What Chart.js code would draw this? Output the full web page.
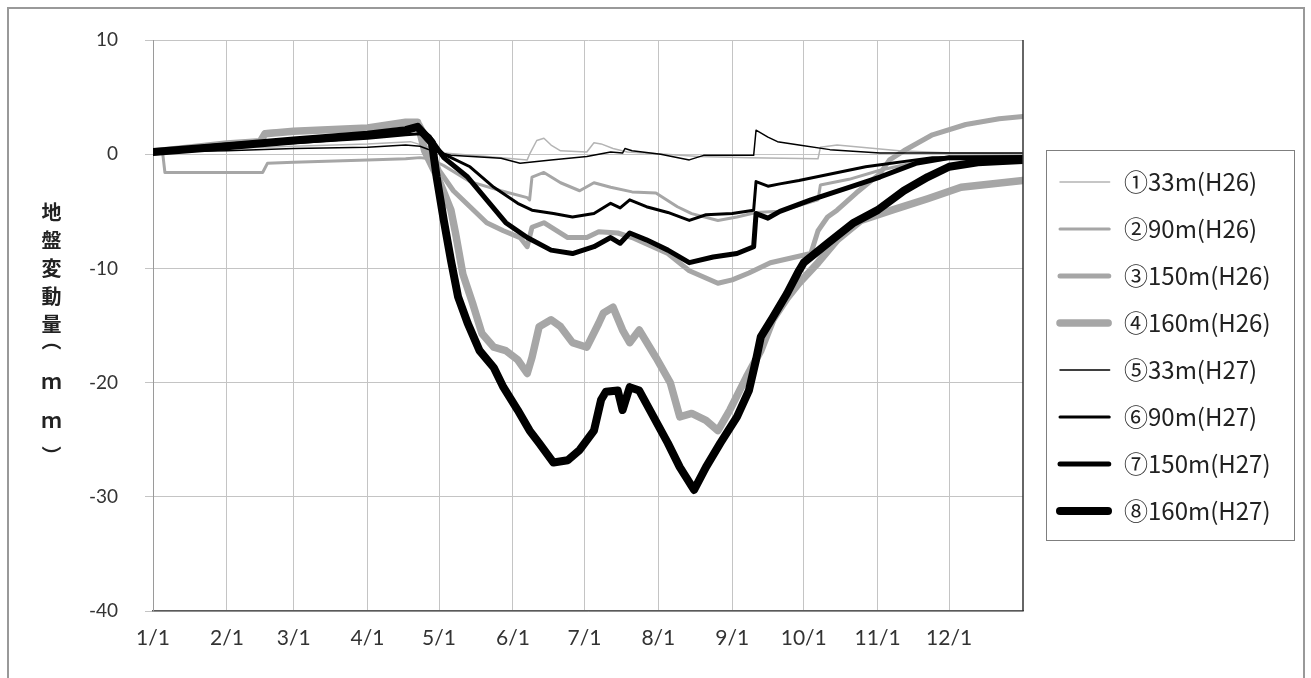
<!DOCTYPE html>
<html lang="ja">
<head>
<meta charset="UTF-8">
<title>地盤変動量</title>
<script src="https://cdn.jsdelivr.net/npm/chart.js"></script>
<style>
  html, body { margin: 0; padding: 0; background: #fff; overflow: hidden; }
  #wrap { position: relative; width: 1311px; height: 678px; }
  #frame { position: absolute; left: 7px; top: 7px; width: 1294px; height: 690px; border: 2px solid #999; pointer-events: none; }
  #ytitle { position: absolute; left: 37px; top: 202px; writing-mode: vertical-rl; font: bold 20px "Noto Sans CJK JP", sans-serif; letter-spacing: 8px; color: #222; }
  #ytitle .a { letter-spacing: -4px; }
  #ytitle .b { letter-spacing: 23px; }
  #ytitle .c { letter-spacing: 19px; }
  #ytitle .d { letter-spacing: 14px; }
</style>
</head>
<body>
<div id="wrap">
  <canvas id="chart" width="1311" height="678"></canvas>
  <div id="frame"></div>
  <div id="ytitle">地盤変動<span class="a">量</span><span class="b">（</span><span class="c">ｍ</span><span class="d">ｍ</span>）</div>
</div>
<script>
// x = day of year (0 = 1/1), y = ground displacement (mm)
const monthStarts = [0, 31, 59, 90, 120, 151, 181, 212, 243, 273, 304, 334];
const monthLabels = ['1/1', '2/1', '3/1', '4/1', '5/1', '6/1', '7/1', '8/1', '9/1', '10/1', '11/1', '12/1'];
const seriesNames = ['①33m(H26)', '②90m(H26)', '③150m(H26)', '④160m(H26)',
                     '⑤33m(H27)', '⑥90m(H27)', '⑦150m(H27)', '⑧160m(H27)'];

const days1 = [0,31,59,90,108,116,122,140,157,158,161,164,167,171,182,185,188,193,199,215,229,250,279,280,287,313,335,365];
const vals1 = [0.2,0.5,0.7,0.9,1.1,0.6,0.1,-0.2,-0.5,0.0,1.2,1.4,0.8,0.3,0.2,1.0,0.9,0.5,0.2,0.0,-0.2,-0.3,-0.4,0.6,0.8,0.3,0.1,0.0];

const days2 = [0,4,5,46,48,59,90,106,112,116,122,133,146,157,158,159,164,171,179,185,192,201,211,220,226,237,245,253,263,271,279,280,292,305,320,334,365];
const vals2 = [0.2,0.2,-1.6,-1.6,-0.8,-0.7,-0.5,-0.4,-0.3,-0.4,-1.0,-2.4,-3.2,-3.8,-4.0,-2.0,-1.6,-2.5,-3.2,-2.5,-2.9,-3.3,-3.4,-4.6,-5.2,-5.8,-5.5,-5.1,-5.0,-4.5,-4.0,-2.7,-2.2,-1.4,-0.7,-0.4,-0.3];

const days3 = [0,31,45,47,59,90,106,112,116,120,126,133,140,147,154,157,159,164,174,182,187,195,201,216,225,237,243,250,259,276,279,283,287,295,305,309,315,327,341,355,365];
const vals3 = [0.2,0.8,1.0,1.9,2.0,2.2,2.7,2.6,1.0,-1.4,-3.2,-4.6,-6.0,-6.7,-7.3,-8.1,-6.4,-6.0,-7.3,-7.3,-6.8,-6.9,-7.3,-8.7,-10.2,-11.3,-11.0,-10.4,-9.5,-8.7,-6.7,-5.5,-4.9,-3.4,-1.7,-0.5,0.3,1.7,2.6,3.1,3.3];

const days4 = [0,31,45,47,59,90,106,111,114,120,125,127,130,134,138,143,148,153,157,159,162,167,171,176,182,187,189,193,197,200,204,211,217,221,226,232,237,242,249,255,260,266,271,279,287,297,310,325,339,365];
const vals4 = [0.2,0.9,1.1,1.8,2.0,2.3,2.8,2.8,0.3,-2.3,-4.9,-7.0,-10.5,-13.0,-15.7,-16.9,-17.2,-18.0,-19.2,-17.8,-15.1,-14.5,-15.1,-16.5,-16.9,-14.8,-13.9,-13.4,-15.4,-16.5,-15.4,-17.8,-20.0,-23.0,-22.7,-23.3,-24.2,-22.4,-19.5,-17.2,-14.5,-12.6,-11.3,-9.5,-7.5,-5.8,-4.9,-3.9,-2.9,-2.3];

const days5 = [0,31,59,90,106,112,117,125,146,154,167,182,192,197,198,201,213,225,231,252,253,258,262,271,284,305,335,365];
const vals5 = [0.2,0.3,0.5,0.6,0.8,0.7,0.3,-0.1,-0.35,-0.8,-0.5,-0.2,0.2,0.1,0.5,0.3,0.0,-0.5,-0.1,-0.1,2.1,1.5,1.1,0.8,0.4,0.1,0.1,0.1];

const days6 = [0,31,59,90,106,112,117,122,133,143,153,159,168,176,185,192,196,200,207,216,225,232,243,252,253,258,263,271,299,327,365];
const vals6 = [0.2,0.7,1.0,1.4,1.7,1.8,1.0,0.0,-1.1,-2.9,-4.3,-4.9,-5.2,-5.5,-5.2,-4.3,-4.7,-4.0,-4.6,-5.1,-5.8,-5.3,-5.2,-4.9,-2.4,-2.8,-2.6,-2.3,-1.1,-0.3,-0.2];

const days7 = [0,31,59,90,106,111,116,122,132,140,148,157,167,176,185,192,196,200,207,216,225,235,245,252,253,258,263,276,292,305,320,334,365];
const vals7 = [0.2,0.8,1.2,1.7,2.1,2.3,1.5,-0.3,-2.0,-4.0,-6.0,-7.3,-8.4,-8.7,-8.1,-7.3,-7.8,-6.9,-7.5,-8.4,-9.5,-9.0,-8.7,-8.1,-5.2,-5.6,-5.0,-4.0,-2.9,-2.0,-0.8,-0.3,-0.3];

const days8 = [0,31,59,90,106,111,117,119,122,125,128,132,137,143,147,153,158,162,168,174,179,185,188,190,195,197,200,204,210,216,221,227,232,238,245,250,253,255,260,266,271,273,283,294,304,315,325,334,346,365];
const vals8 = [0.2,0.7,1.2,1.7,2.1,2.4,1.0,-2.0,-5.8,-9.3,-12.5,-14.8,-17.2,-18.7,-20.4,-22.4,-24.2,-25.3,-27.0,-26.8,-25.9,-24.2,-21.5,-20.8,-20.7,-22.4,-20.4,-20.7,-23.0,-25.3,-27.4,-29.4,-27.4,-25.3,-23.0,-20.7,-18.0,-16.0,-14.3,-12.2,-10.2,-9.5,-7.8,-6.0,-4.9,-3.2,-2.0,-1.1,-0.7,-0.5];

const allDays = [days1, days2, days3, days4, days5, days6, days7, days8];
const allVals = [vals1, vals2, vals3, vals4, vals5, vals6, vals7, vals8];

// styling per series
const GRAY = '#a6a6a6';
const colors = ['#b4b4b4', GRAY, GRAY, GRAY, '#000', '#000', '#000', '#000'];
const widths = [1.5, 3, 5, 7.5, 1.5, 3, 5, 8];

const PLOT_RIGHT = 1023;
const SWATCH_W = 66;

// legend sample line, drawn a little way in from the legend frame
function swatch(color, w) {
  const c = document.createElement('canvas');
  c.width = SWATCH_W;
  c.height = 14;
  const g = c.getContext('2d');
  const left = 14 - w * 0.5, right = 64 + w * 0.25;
  g.strokeStyle = color;
  g.lineWidth = w;
  g.lineCap = 'round';
  g.beginPath();
  g.moveTo(left + w / 2, 7);
  g.lineTo(right - w / 2, 7);
  g.stroke();
  return c;
}
const swatches = colors.map((c, i) => swatch(c, widths[i]));

const datasets = seriesNames.map((name, i) => ({
  label: name,
  data: allDays[i].map((d, j) => ({ x: d, y: allVals[i][j] })),
  borderColor: colors[i],
  backgroundColor: colors[i],
  borderWidth: widths[i],
  pointRadius: 0,
  pointHoverRadius: 0,
  tension: 0,
  borderJoinStyle: 'round',
  borderCapStyle: 'round',
  order: 8 - i   // H27 lines on top
}));

// legend frame and right edge of the plot
const extras = {
  id: 'extras',
  afterDraw(chart) {
    const c = chart.ctx;
    const a = chart.chartArea;
    c.save();
    c.strokeStyle = '#333';
    c.lineWidth = 1.5;
    c.beginPath();
    c.moveTo(a.right, a.top);
    c.lineTo(a.right, a.bottom);
    c.stroke();
    const hb = chart.legend.legendHitBoxes;
    if (hb && hb.length) {
      const last = hb[hb.length - 1];
      const x = hb[0].left;
      const y = hb[0].top - 20;
      c.strokeStyle = '#7f7f7f';
      c.lineWidth = 1;
      c.strokeRect(Math.round(x) + 0.5, Math.round(y) + 0.5, 248, Math.round(last.top + last.height + 17 - y));
    }
    c.restore();
  }
};

Chart.defaults.font.family = 'Lato, "Noto Sans CJK JP", sans-serif';

const chart = new Chart(document.getElementById('chart').getContext('2d'), {
  type: 'line',
  data: { datasets: datasets },
  options: {
    responsive: false,
    animation: false,
    events: [],
    layout: { padding: { left: 0, top: 40, right: 40, bottom: 25 } },
    scales: {
      x: {
        type: 'linear',
        min: 0,
        max: 365,
        afterBuildTicks: (scale) => { scale.ticks = monthStarts.map(v => ({ value: v })); },
        afterFit: (scale) => { scale.height = 42; },
        ticks: {
          autoSkip: false,
          maxRotation: 0,
          padding: 15,
          color: '#333',
          font: { size: 21 },
          callback: (v, i) => monthLabels[i]
        },
        grid: { color: '#c4c4c4', drawTicks: false },
        border: { color: '#5a5a5a', width: 1.5 }
      },
      y: {
        min: -40,
        max: 10,
        afterFit: (scale) => { scale.width = 153; },
        ticks: { stepSize: 10, padding: 27, color: '#333', font: { size: 19 } },
        grid: { color: '#c4c4c4', tickLength: 8 },
        border: { color: '#9a9a9a', width: 1 }
      }
    },
    plugins: {
      title: { display: false },
      tooltip: { enabled: false },
      legend: {
        position: 'right',
        labels: {
          usePointStyle: true,
          pointStyleWidth: SWATCH_W,
          padding: 23,
          color: '#222',
          font: { size: 24, family: '"Noto Sans CJK JP", Lato, sans-serif' },
          sort: (a, b) => a.datasetIndex - b.datasetIndex,
          generateLabels: (chart) => {
            const items = Chart.defaults.plugins.legend.labels.generateLabels(chart);
            items.forEach(it => { it.pointStyle = swatches[it.datasetIndex]; });
            return items;
          }
        }
      }
    }
  },
  plugins: [extras]
});

// put the plot's right edge where the reference has it
const dx = chart.chartArea.right - PLOT_RIGHT;
if (Math.abs(dx) > 0.5) {
  chart.options.layout.padding.right += dx;
  chart.update();
}
</script>
</body>
</html>
